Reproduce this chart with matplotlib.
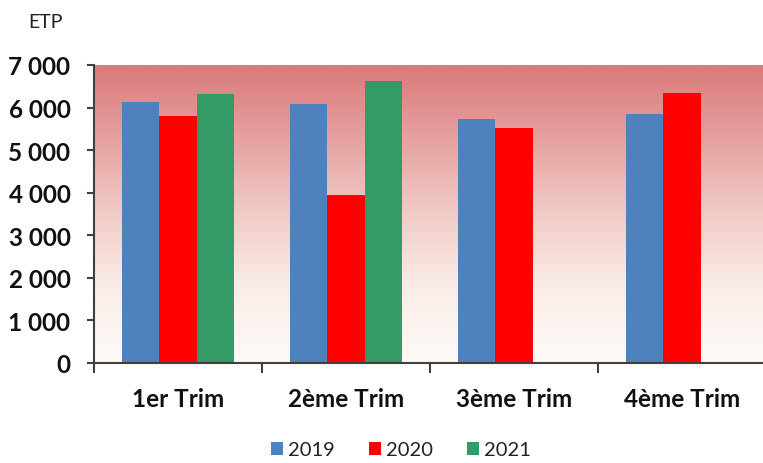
import matplotlib
matplotlib.use("Agg")
import matplotlib.pyplot as plt
from matplotlib.colors import LinearSegmentedColormap
import numpy as np

# data
categories = ['1er Trim', '2ème Trim', '3ème Trim', '4ème Trim']
years = ['2019', '2020', '2021']
etp_2019 = [6120, 6080, 5735, 5845]
etp_2020 = [5805, 3950, 5510, 6345]
etp_2021 = [6315, 6613, None, None]
ytick_vals = [0, 1000, 2000, 3000, 4000, 5000, 6000, 7000]
ytick_labels = ['0', '1 000', '2 000', '3 000', '4 000', '5 000', '6 000', '7 000']

colors = ['#4F81BD', '#FF0000', '#349A66']
series = [etp_2019, etp_2020, etp_2021]

plt.rcParams['font.family'] = ['Lato', 'DejaVu Sans']

fig = plt.figure(figsize=(7.63, 4.64), dpi=100)
ax = fig.add_axes([94 / 763, 1 - 364 / 464, 672 / 763, 298 / 464])

# gradient background
bg = LinearSegmentedColormap.from_list('bg', [(0.0, '#FEFAF8'), (0.25, '#FAEDE8'),
                                             (0.5, '#F1CBC6'), (1.0, '#DA7A7A')])
grad = np.linspace(0, 1, 256).reshape(-1, 1)
ax.imshow(grad, cmap=bg, aspect='auto', extent=[0, 4, 0, 7000], origin='lower', zorder=0)

x = np.arange(len(categories)) + 0.5
w = 0.222
for i, (vals, col, yr) in enumerate(zip(series, colors, years)):
    xs = [xx + (i - 1) * w for xx, v in zip(x, vals) if v is not None]
    hs = [v for v in vals if v is not None]
    ax.bar(xs, hs, width=w, color=col, label=yr, zorder=2)

ax.set_xlim(0, 4)
ax.set_ylim(0, 7000)
ax.set_yticks(ytick_vals)
ax.set_yticklabels(ytick_labels, fontsize=17.5, fontweight='bold', color='#111111')
ax.set_xticks(x)
ax.set_xticklabels(categories, fontsize=17.5, fontweight='bold', color='#111111')
ax.set_xticks(np.arange(0, 5), minor=True)
ax.tick_params(axis='x', which='major', length=0, pad=17)
ax.tick_params(axis='x', which='minor', length=7, width=1.5, color='#404040', direction='out')
ax.tick_params(axis='y', length=5, width=1.5, color='#404040', pad=12)

for s in ['top', 'right']:
    ax.spines[s].set_visible(False)
for s in ['left', 'bottom']:
    ax.spines[s].set_color('#404040')
    ax.spines[s].set_linewidth(1.5)

fig.text(28 / 763, 1 - 22 / 464, 'ETP', fontsize=14, color='#222222', va='center', ha='left')

fig.legend(loc='center', bbox_to_anchor=(401 / 763, 1 - 451 / 464), ncol=3, frameon=False,
           fontsize=14.5, handlelength=0.6, handleheight=0.6, handletextpad=0.25,
           columnspacing=1.7, labelcolor='#222222')

fig.savefig('out.png', dpi=100)
